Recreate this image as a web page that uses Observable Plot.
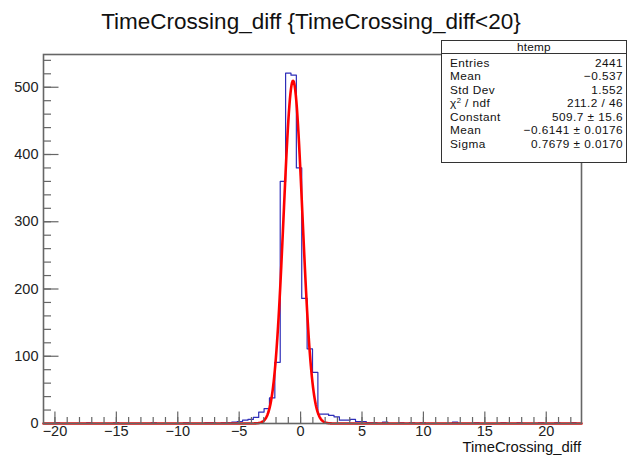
<!DOCTYPE html>
<html>
<head>
<meta charset="utf-8">
<script src="https://cdn.jsdelivr.net/npm/d3@7"></script>
<script src="https://cdn.jsdelivr.net/npm/@observablehq/plot@0.6"></script>
<style>
  body { margin: 0; background: #fff; }
  #wrap { position: relative; width: 628px; height: 456px; font-family: "Liberation Sans", Arial, Helvetica, sans-serif; color: #111; overflow: hidden; }
  #chart { position: absolute; left: 0; top: 0; }
  #title { position: absolute; left: 0; width: 622px; top: 11px; text-align: center; font-size: 22.5px; line-height: 22px; white-space: nowrap; }
  #xlabel { position: absolute; right: 47px; top: 441.5px; font-size: 14.8px; line-height: 11px; white-space: nowrap; }
  #stats { position: absolute; left: 441px; top: 40px; width: 186px; height: 123px; box-sizing: border-box; border: 1px solid #333; background: #fff; font-size: 11.8px; letter-spacing: 0.45px; }
  #stats .hdr { position: absolute; left: 0; right: 0; top: 0; height: 12px; border-bottom: 1px solid #333; text-align: center; line-height: 12px; font-size: 11.8px; letter-spacing: 0.2px; }
  #stats .row { position: absolute; left: 8px; right: 3px; height: 13px; line-height: 13px; white-space: nowrap; }
  #stats .row .v { position: absolute; right: 0; top: 0; }
  sup { font-size: 0.65em; line-height: 0; vertical-align: 0.5em; }
</style>
</head>
<body>
<div id="wrap">
  <div id="chart"></div>
  <div id="title"></div>
  <div id="xlabel"></div>
  <div id="stats"></div>
</div>
<script>
// ---- data ----
const titleText = "TimeCrossing_diff {TimeCrossing_diff<20}";
const xAxisTitle = "TimeCrossing_diff";
const histName = "htemp";
const xMin = -20.93;
const binWidth = 0.438;
// bin contents (100 bins)
const counts = [
  0,0,1,0,0,0,0,0,1,0,      // 0-9
  0,0,0,1,0,0,0,0,0,0,      // 10-19
  1,0,0,0,0,0,1,0,0,0,      // 20-29
  1,1,0,1,1,2,3,5,6,9,      // 30-39
  17,22,38,91,360,521,518,380,186,111, // 40-49
  76,14,14,12,10,5,5,6,3,3, // 50-59
  1,1,0,2,0,0,1,0,1,0,      // 60-69
  1,0,0,0,0,0,2,0,0,0,      // 70-79
  1,0,0,0,0,1,0,0,1,0,      // 80-89
  0,0,1,0,0,1,0,0,1,0       // 90-99
];
const fitParams = { constant: 509.7, mean: -0.6141, sigma: 0.7679 };
const fitNpx = 1000;
const xTicksMajor = [-20, -15, -10, -5, 0, 5, 10, 15, 20];
const xTicksMinor = d3.range(-20, 23, 1);
const yTicksMajor = [0, 100, 200, 300, 400, 500];
const yTicksMinor = d3.range(0, 541, 20);
const yMax = 548.7;
const statsLabels = ["Entries", "Mean", "Std Dev", "χ<sup>2</sup> / ndf", "Constant", "Mean", "Sigma"];
const statsValues = ["2441", "\u22120.537", "1.552", "211.2 / 46", "509.7 \u00b1 15.6", "\u22120.6141 \u00b1 0.0176", "0.7679 \u00b1 0.0170"];

// ---- derived tables ----
const nBins = counts.length;
const xMax = xMin + nBins * binWidth;
const stepData = counts.map((c, i) => ({ x: xMin + i * binWidth, y: c }));
stepData.push({ x: xMax, y: counts[nBins - 1] });
const fitData = d3.range(fitNpx + 1).map(i => {
  const x = xMin + i * (xMax - xMin) / fitNpx;
  const z = (x - fitParams.mean) / fitParams.sigma;
  return { x, y: fitParams.constant * Math.exp(-0.5 * z * z) };
});

const axisColor = "#666";
const plot = Plot.plot({
  width: 628,
  height: 456,
  marginLeft: 43,
  marginRight: 47,
  marginTop: 54,
  marginBottom: 33,
  x: { domain: [xMin, xMax] },
  y: { domain: [0, yMax] },
  style: { fontFamily: "'Liberation Sans', Arial, Helvetica, sans-serif", fontSize: "14.5px", color: "#222", background: "white" },
  marks: [
    Plot.lineY(stepData, { x: "x", y: "y", curve: "step-after", stroke: "#2d2db8", strokeWidth: 1.2 }),
    Plot.line(fitData, { x: "x", y: "y", stroke: "#ff0000", strokeWidth: 2.6 }),
    Plot.frame({ stroke: axisColor, strokeWidth: 1.6 }),
    Plot.axisX({ ticks: xTicksMinor, tickSize: -6, tickFormat: () => "", label: null, stroke: axisColor, strokeWidth: 1.2 }),
    Plot.axisX({ ticks: xTicksMajor, tickSize: -11.5, tickFormat: () => "", label: null, stroke: axisColor, strokeWidth: 1.2 }),
    Plot.axisX({ ticks: xTicksMajor, tickSize: 0, tickPadding: 2.5, label: null, fill: "#222" }),
    Plot.axisY({ ticks: yTicksMinor, tickSize: -8, tickFormat: () => "", label: null, stroke: axisColor, strokeWidth: 1.2 }),
    Plot.axisY({ ticks: yTicksMajor, tickSize: -15.5, tickFormat: () => "", label: null, stroke: axisColor, strokeWidth: 1.2 }),
    Plot.axisY({ ticks: yTicksMajor, tickSize: 0, tickPadding: 5, label: null, fill: "#222" })
  ]
});
document.getElementById("chart").appendChild(plot);
document.getElementById("title").textContent = titleText;
document.getElementById("xlabel").textContent = xAxisTitle;

const stats = document.getElementById("stats");
const hdr = document.createElement("div");
hdr.className = "hdr";
hdr.textContent = histName;
stats.appendChild(hdr);
statsLabels.forEach((lab, i) => {
  const row = document.createElement("div");
  row.className = "row";
  row.style.top = (16 + i * 13.45) + "px";
  row.innerHTML = `<span class="l">${lab}</span><span class="v">${statsValues[i]}</span>`;
  stats.appendChild(row);
});
</script>
</body>
</html>
